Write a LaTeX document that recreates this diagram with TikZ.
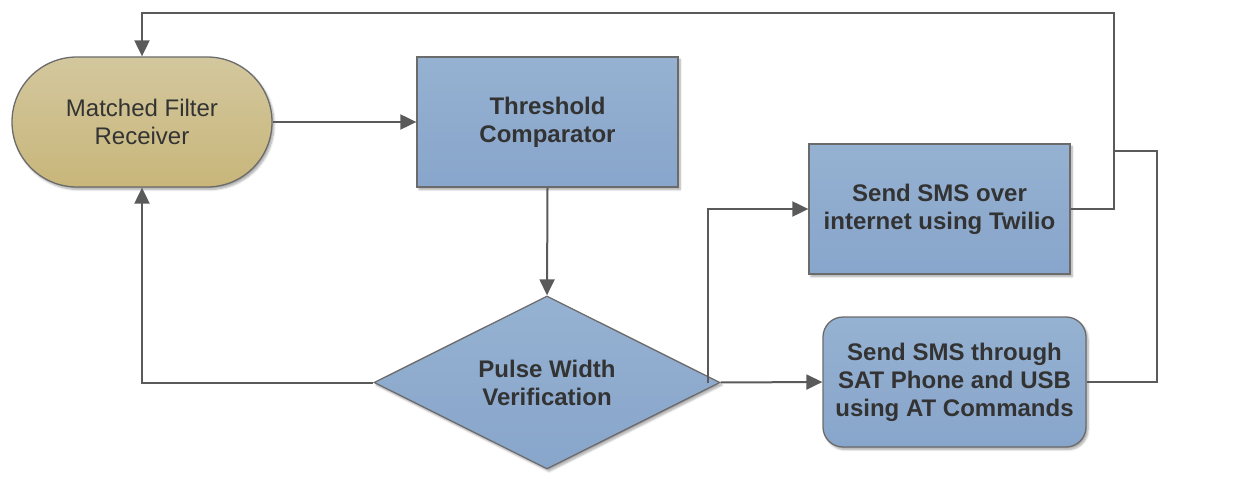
\documentclass[tikz,border=0pt]{standalone}
\usepackage{fontspec}
\setmainfont{Liberation Sans}
\usetikzlibrary{shapes.geometric,arrows.meta,shadows.blur}
\definecolor{tanTop}{HTML}{D3C79E}
\definecolor{tanBot}{HTML}{C8B67A}
\definecolor{bluTop}{HTML}{95B2D2}
\definecolor{bluBot}{HTML}{88A5CB}
\definecolor{edgeC}{HTML}{6B6B6B}
\definecolor{lineC}{HTML}{5A5A5A}
\definecolor{txtC}{HTML}{333333}
\tikzset{
  shp/.style={draw=edgeC, line width=1.3pt, text=txtC, align=center,
    font=\fontsize{24}{28}\selectfont,
    blur shadow={shadow xshift=2pt, shadow yshift=-2.5pt, shadow blur steps=6, shadow opacity=35}},
  tanbox/.style={shp, top color=tanTop, bottom color=tanBot,
    minimum width=260pt, minimum height=130pt, rounded corners=64.9pt, inner sep=0pt},
  bluebox/.style={shp, top color=bluTop, bottom color=bluBot, font=\fontsize{24}{28}\selectfont\bfseries,
    inner sep=0pt},
  lbl/.style={text=txtC, align=center, font=\fontsize{24}{28}\selectfont\bfseries, inner sep=0pt},
  conn/.style={draw=lineC, line width=2pt},
  arr/.style={conn, -{Triangle[length=16pt,width=15pt]}},
}
\begin{document}
\begin{tikzpicture}[x=1pt,y=-1pt]
\useasboundingbox (0,0) rectangle (1242,481);
\node[tanbox] (mf) at (142,122) {Matched Filter\\Receiver};
\node[bluebox, minimum width=261pt, minimum height=130pt] (tc) at (547.5,122) {Threshold\\Comparator};
\node[bluebox, diamond, minimum width=346pt, minimum height=173pt] (pw) at (547,382.5) {};
\node[lbl] (pwt) at (pw.center) {Pulse Width\\Verification};
\node[bluebox, minimum width=261pt, minimum height=130pt] (tw) at (939.5,209) {Send SMS over\\internet using Twilio};
\node[bluebox, minimum width=263pt, minimum height=130pt, rounded corners=20pt] (sat) at (954.5,382) {Send SMS through\\SAT Phone and USB\\using AT Commands};
\coordinate (j1) at (708,382.5);
\coordinate (r1) at (1114,13);
\coordinate (r2) at (1157,151);
\coordinate (j2) at (1114,151);
\draw[arr] (mf.east) -- (tc.west);
\draw[arr] (tc.south) -- (pw.north);
\draw[arr] (pw.west) -| (mf.south);
\draw[arr] (pw.east) -- (sat.west);
\draw[arr] (j1) |- (tw.west);
\draw[arr] (tw.east) -| (r1) -| (mf.north);
\draw[conn] (sat.east) -| (r2) -- (j2);
\end{tikzpicture}
\end{document}
